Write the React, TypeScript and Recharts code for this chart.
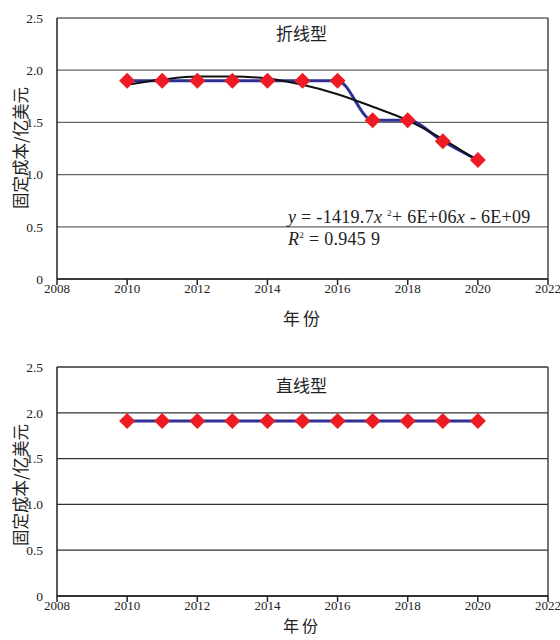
import React from "react";
import { LineChart, Line, XAxis, YAxis, CartesianGrid, ReferenceLine } from "recharts";

// years on the x axis
const years = [2010, 2011, 2012, 2013, 2014, 2015, 2016, 2017, 2018, 2019, 2020];
// 折线型 fixed cost (亿美元)
const foldCost = [1.9, 1.9, 1.9, 1.9, 1.9, 1.9, 1.9, 1.52, 1.52, 1.32, 1.14];
// polynomial trend line
const trendCost = [1.86, 1.91, 1.94, 1.94, 1.92, 1.86, 1.77, 1.65, 1.52, 1.34, 1.13];
// 直线型 fixed cost
const straightCost = [1.91, 1.91, 1.91, 1.91, 1.91, 1.91, 1.91, 1.91, 1.91, 1.91, 1.91];

const xTicks = [2008, 2010, 2012, 2014, 2016, 2018, 2020, 2022];
const yTicks = [0, 0.5, 1.0, 1.5, 2.0, 2.5];

const SERIF = "'Liberation Serif', 'Times New Roman', 'DejaVu Serif', serif";
const CJK = "'Noto Sans CJK SC', sans-serif";

const BLUE = "#2e3192";
const RED = "#ed1c24";

const renderDiamond = (props: any) => {
  const { cx, cy, index } = props;
  if (cx == null || cy == null) return <g key={`d-${index}`} />;
  const r = 8;
  return (
    <path
      key={`d-${index}`}
      d={`M${cx},${cy - r} L${cx + r},${cy} L${cx},${cy + r} L${cx - r},${cy} Z`}
      fill={RED}
      stroke="none"
    />
  );
};

const fmtY = (v: number) => (v === 0 ? "0" : v.toFixed(1));

interface PanelProps {
  data: any[];
  height: number;
  top: number;
  bottom: number;
  gridColor: string;
  withTrend: boolean;
}

function Panel({ data, height, top, bottom, gridColor, withTrend }: PanelProps) {
  return (
    <LineChart
      width={560}
      height={height}
      data={data}
      margin={{ top, right: 12, left: 0, bottom }}
    >
      <CartesianGrid vertical={false} stroke={gridColor} strokeWidth={1.3} />
      <XAxis
        dataKey="year"
        type="number"
        domain={[2008, 2022]}
        ticks={xTicks}
        interval={0}
        height={30}
        stroke="#222"
        strokeWidth={1.5}
        tickSize={6}
        tickMargin={-1}
        tick={{ fontFamily: SERIF, fontSize: 13, fill: "#222" }}
      />
      <YAxis
        type="number"
        domain={[0, 2.5]}
        ticks={yTicks}
        interval={0}
        width={57}
        stroke="#222"
        strokeWidth={1.5}
        tickLine={false}
        tickMargin={8}
        tickFormatter={fmtY}
        tick={{ fontFamily: SERIF, fontSize: 13.5, fill: "#222" }}
      />
      <ReferenceLine x={2022} stroke="#444" strokeWidth={1.5} ifOverflow="visible" />
      <Line
        dataKey="cost"
        type="monotone"
        stroke={BLUE}
        strokeWidth={3}
        dot={renderDiamond}
        activeDot={false}
        isAnimationActive={false}
      />
      {withTrend && (
        <Line
          dataKey="trend"
          type="monotone"
          stroke="#111"
          strokeWidth={2}
          dot={false}
          activeDot={false}
          isAnimationActive={false}
        />
      )}
    </LineChart>
  );
}

const abs = (style: React.CSSProperties): React.CSSProperties => ({
  position: "absolute",
  whiteSpace: "nowrap",
  lineHeight: 1,
  color: "#222",
  ...style,
});

export default function App() {
  const foldData = years.map((year, i) => ({ year, cost: foldCost[i], trend: trendCost[i] }));
  const straightData = years.map((year, i) => ({ year, cost: straightCost[i] }));

  return (
    <div style={{ position: "absolute", left: 0, top: 0, width: 560, height: 640, background: "#fff", overflow: "hidden" }}>
      <div style={{ position: "absolute", left: 0, top: 0 }}>
        <Panel data={foldData} height={330} top={18} bottom={21} gridColor="#666" withTrend />
      </div>
      <div style={{ position: "absolute", left: 0, top: 340 }}>
        <Panel data={straightData} height={300} top={27} bottom={14} gridColor="#333" withTrend={false} />
      </div>

      {/* titles */}
      <div style={abs({ left: 276, top: 24, fontFamily: CJK, fontSize: 17 })}>折线型</div>
      <div style={abs({ left: 276, top: 376, fontFamily: CJK, fontSize: 17 })}>直线型</div>

      {/* trend equation */}
      <div style={abs({ left: 288, top: 208, fontFamily: SERIF, fontSize: 18, letterSpacing: 0.3 })}>
        <i>y</i> = -1419.7<i>x</i> <sup style={{ fontSize: 9 }}>2</sup>+ 6E+06<i>x</i> - 6E+09
      </div>
      <div style={abs({ left: 288, top: 230, fontFamily: SERIF, fontSize: 18, letterSpacing: 0.3 })}>
        <i>R</i><sup style={{ fontSize: 9 }}>2</sup> = 0.945 9
      </div>

      {/* x axis titles */}
      <div style={abs({ left: 283, top: 309, fontFamily: CJK, fontSize: 17, letterSpacing: 3 })}>年份</div>
      <div style={abs({ left: 283, top: 617, fontFamily: CJK, fontSize: 16, letterSpacing: 3 })}>年份</div>

      {/* y axis titles */}
      <div
        style={abs({
          left: 20,
          top: 148,
          fontFamily: CJK,
          fontSize: 16.5,
          transform: "translate(-50%, -50%) rotate(-90deg)",
        })}
      >
        固定成本/亿美元
      </div>
      <div
        style={abs({
          left: 20,
          top: 485,
          fontFamily: CJK,
          fontSize: 16.5,
          transform: "translate(-50%, -50%) rotate(-90deg)",
        })}
      >
        固定成本/亿美元
      </div>
    </div>
  );
}
